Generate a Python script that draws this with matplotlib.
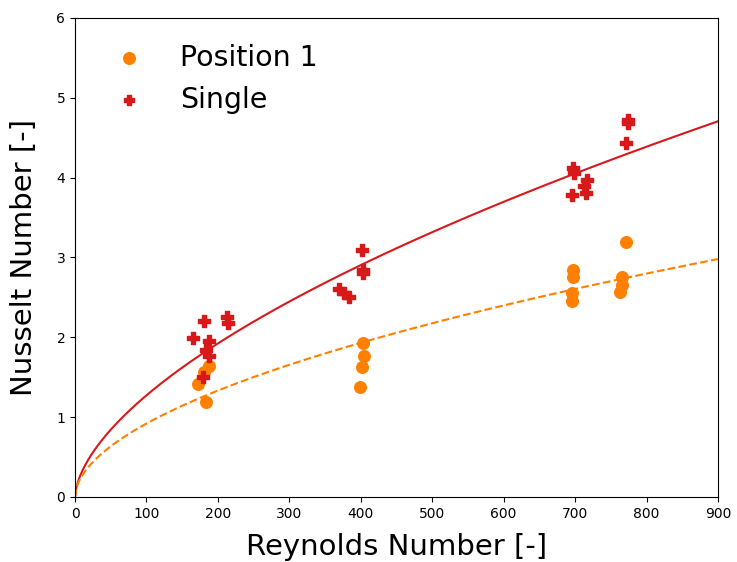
import numpy as np
import matplotlib
matplotlib.use("Agg")
import matplotlib.pyplot as plt

# Position 1 measurements
pos1_re = [172, 181, 188, 184, 403, 405, 402, 399, 697, 697, 695, 695, 771, 766, 765, 763]
pos1_nu = [1.41, 1.56, 1.64, 1.19, 1.93, 1.77, 1.63, 1.38, 2.84, 2.76, 2.55, 2.45, 3.20, 2.76, 2.66, 2.57]

# Single measurements
single_re = [181, 213, 214, 165, 188, 184, 187, 179, 402, 403, 403, 370, 377, 384,
             774, 774, 771, 697, 698, 716, 713, 715, 696]
single_nu = [2.20, 2.26, 2.18, 1.99, 1.96, 1.84, 1.76, 1.50, 3.09, 2.84, 2.80, 2.60, 2.56, 2.51,
             4.72, 4.68, 4.44, 4.12, 4.06, 3.97, 3.89, 3.81, 3.78]

# Power-law fit parameters Nu = C * Re^m
single_fit = (0.0822, 0.595)
pos1_fit = (0.0783, 0.535)

c_orange = "#FF8000"
c_red = "#D7191C"

fig = plt.figure(figsize=(7.37, 5.62), dpi=100)
ax = fig.add_axes([0.1018, 0.1157, 0.8724, 0.8523])

re_line = np.linspace(0, 900, 500)
ax.plot(re_line, single_fit[0] * re_line ** single_fit[1], color=c_red, lw=1.5)
ax.plot(re_line, pos1_fit[0] * re_line ** pos1_fit[1], color=c_orange, lw=1.5, ls="--")

ax.scatter(pos1_re, pos1_nu, s=70, color=c_orange, marker="o", label="Position 1", zorder=3)
ax.scatter(single_re, single_nu, s=70, color=c_red, marker="P", label="Single", zorder=3)

ax.set_xlim(0, 900)
ax.set_ylim(0, 6)
ax.set_xticks(range(0, 901, 100))
ax.set_yticks(range(0, 7))
ax.tick_params(labelsize=10)
ax.set_xlabel("Reynolds Number [-]", fontsize=21, labelpad=8.5)
ax.set_ylabel("Nusselt Number [-]", fontsize=21, labelpad=13)

leg = ax.legend(loc="upper left", fontsize=20.5, frameon=False,
                handletextpad=0.8, borderaxespad=0.5)
leg.legend_handles[0].set_sizes([70])
leg.legend_handles[1].set_sizes([45])

fig.savefig("out.png", dpi=100)
